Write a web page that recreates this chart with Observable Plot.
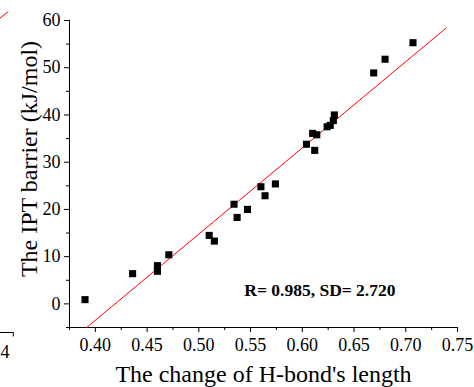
<!DOCTYPE html>
<html>
<head>
<meta charset="utf-8">
<script src="https://cdn.jsdelivr.net/npm/d3@7"></script>
<script src="https://cdn.jsdelivr.net/npm/@observablehq/plot@0.6"></script>
<style>
  html, body { margin: 0; padding: 0; background: #fff; }
  #chart { position: relative; width: 474px; height: 387px; }
</style>
</head>
<body>
<div id="chart"></div>
<script>
// Data
const hbondChange = [0.390, 0.436, 0.460, 0.460, 0.471, 0.510, 0.515, 0.534, 0.537, 0.547, 0.560, 0.564, 0.574,
                     0.604, 0.612, 0.610, 0.614, 0.624, 0.627, 0.630, 0.631, 0.669, 0.680, 0.707];
const iptBarrier  = [0.9, 6.4, 8.1, 6.9, 10.4, 14.5, 13.3, 21.1, 18.3, 20.0, 24.8, 22.9, 25.4,
                     33.8, 32.5, 36.1, 35.8, 37.5, 37.8, 38.8, 40.0, 48.9, 51.8, 55.3];
// Linear fit line end points (as read)
const fitX = [0.3916, 0.739];
const fitY = [-5, 58.4];
const annotation = ["R= 0.985, SD= 2.720"];
const annotX = [0.617];
const annotY = [2.8];
const xMajor = [0.40, 0.45, 0.50, 0.55, 0.60, 0.65, 0.70, 0.75];
const xMinor = [0.375, 0.425, 0.475, 0.525, 0.575, 0.625, 0.675, 0.725];
const yMajor = [0, 10, 20, 30, 40, 50, 60];
const yMinor = [-5, 5, 15, 25, 35, 45, 55];

const points = hbondChange.map((x, i) => ({x, y: iptBarrier[i]}));
const fit = fitX.map((x, i) => ({x, y: fitY[i]}));
const ann = annotation.map((t, i) => ({t, x: annotX[i], y: annotY[i]}));

const font = "'Liberation Serif', 'Times New Roman', serif";

const plot = Plot.plot({
  width: 474,
  height: 387,
  marginLeft: 69,
  marginRight: 17,
  marginTop: 20,
  marginBottom: 60,
  style: {fontFamily: font, fontSize: "18px", color: "#000", background: "#fff"},
  x: {domain: [0.375, 0.75]},
  y: {domain: [-5, 60]},
  marks: [
    Plot.ruleX([0.375], {stroke: "#000", strokeWidth: 1}),
    Plot.ruleY([-5], {stroke: "#000", strokeWidth: 1}),
    Plot.axisX({ticks: xMajor, tickSize: 5, tickPadding: 6, tickFormat: d3.format(".2f"),
                label: "The change of H-bond's length", labelAnchor: "center", labelArrow: "none", labelOffset: 54}),
    Plot.axisX({ticks: xMinor, tickSize: 3, text: null, label: null}),
    Plot.axisY({ticks: yMajor, tickSize: 5, tickPadding: 4, tickFormat: d3.format("d"),
                label: "The IPT barrier (kJ/mol)", labelAnchor: "center", labelArrow: "none", labelOffset: 50}),
    Plot.axisY({ticks: yMinor, tickSize: 3, text: null, label: null}),
    Plot.line(fit, {x: "x", y: "y", stroke: "#ff0000", strokeWidth: 1}),
    Plot.dot(points, {x: "x", y: "y", symbol: "square", r: 4, fill: "#000", stroke: "none"}),
    Plot.text(ann, {x: "x", y: "y", text: "t", fontWeight: "bold", fontSize: 17.5, fill: "#000"})
  ]
});
document.getElementById("chart").appendChild(plot);

// Enlarge axis titles
const svg = d3.select(plot);
svg.selectAll("g[aria-label='x-axis label'] text, g[aria-label='y-axis label'] text")
  .style("font-size", "24px");
// Move the y-axis title up a little (wrap it in a shifted group)
const yl = plot.querySelector("g[aria-label='y-axis label']");
if (yl) {
  const wrap = document.createElementNS("http://www.w3.org/2000/svg", "g");
  wrap.setAttribute("transform", "translate(0,-15)");
  yl.parentNode.insertBefore(wrap, yl);
  wrap.appendChild(yl);
}

// Fragments of the neighbouring panel visible at the left edge
svg.append("line").attr("x1", 0).attr("y1", 18).attr("x2", 8.3).attr("y2", 11.7)
  .attr("stroke", "#ff0000").attr("stroke-width", 1);
svg.append("path").attr("d", "M0,332.5H13.3V336.5").attr("fill", "none").attr("stroke", "#000");
svg.append("text").attr("x", 9.5).attr("y", 358).attr("text-anchor", "end")
  .style("font-family", font).style("font-size", "18px").text("4");
</script>
</body>
</html>
